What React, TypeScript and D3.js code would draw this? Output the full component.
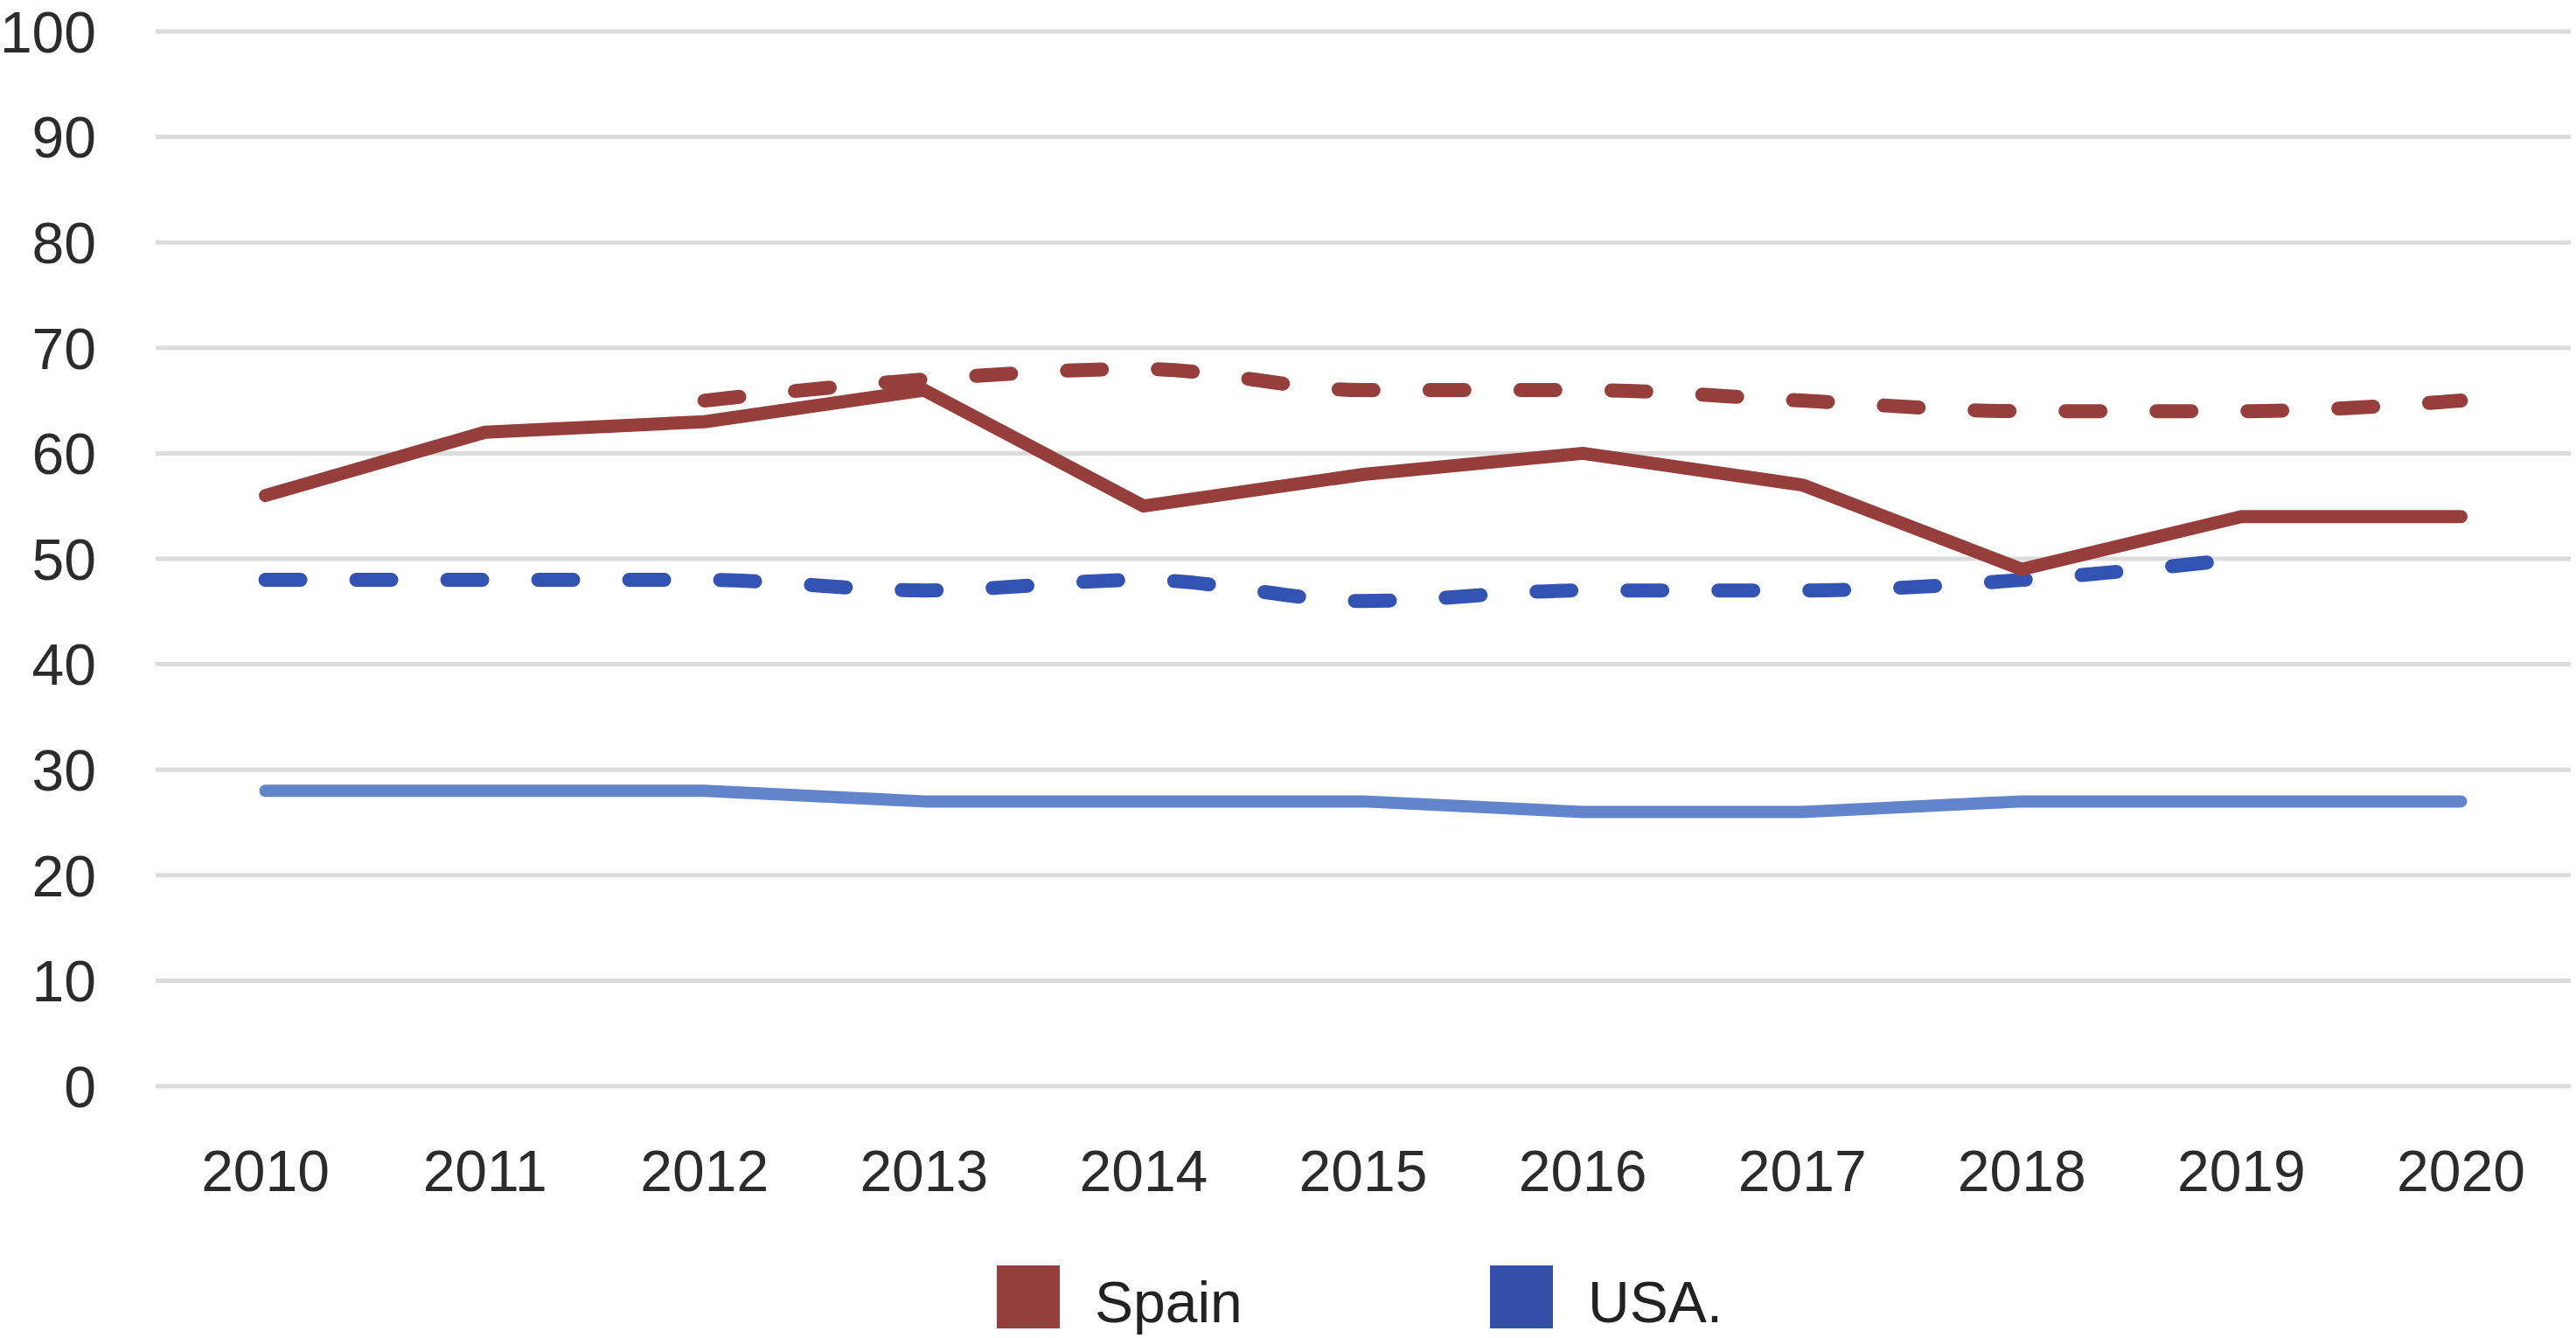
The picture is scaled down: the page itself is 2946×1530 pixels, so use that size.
import { line, curveLinear, curveMonotoneX, scaleLinear, scalePoint } from 'd3';

const years = ['2010', '2011', '2012', '2013', '2014', '2015', '2016', '2017', '2018', '2019', '2020'];
const yTicks = [0, 10, 20, 30, 40, 50, 60, 70, 80, 90, 100];

// null = no value for that year
const spainSolid: (number | null)[] = [56, 62, 63, 66, 55, 58, 60, 57, 49, 54, 54];
const spainDashed: (number | null)[] = [null, null, 65, 67, 68, 66, 66, 65, 64, 64, 65];
const usaDashed: (number | null)[] = [48, 48, 48, 47, 48, 46, 47, 47, 48, 50, null];
const usaSolid: (number | null)[] = [28, 28, 28, 27, 27, 27, 26, 26, 27, 27, 27];

const legendItems = [
  { label: 'Spain', color: '#943f3c' },
  { label: 'USA.', color: '#3450aa' },
];

const width = 2946;
const height = 1530;
const plot = { left: 178, right: 2940, top: 36, bottom: 1242 };
const font = '"Liberation Sans", Arial, sans-serif';

export default function App() {
  const x = scalePoint<string>().domain(years).range([plot.left, plot.right]).padding(0.5);
  const y = scaleLinear().domain([0, 100]).range([plot.bottom, plot.top]);

  const makePath = (values: (number | null)[], smooth: boolean) =>
    line<number | null>()
      .defined(v => v !== null)
      .x((_, i) => x(years[i]) ?? 0)
      .y(v => y(v as number))
      .curve(smooth ? curveMonotoneX : curveLinear)(values) ?? '';

  const series = [
    { values: usaSolid, color: '#6284cb', dashed: false, w: 14 },
    { values: usaDashed, color: '#3353b3', dashed: true, w: 16 },
    { values: spainDashed, color: '#963e3b', dashed: true, w: 16 },
    { values: spainSolid, color: '#963e3b', dashed: false, w: 15 },
  ];

  return (
    <svg
      width={width}
      height={height}
      viewBox={`0 0 ${width} ${height}`}
      style={{ position: 'absolute', left: 0, top: 0, display: 'block', background: '#fff' }}
    >
      <rect width={width} height={height} fill="#fff" />

      {yTicks.map(tick => (
        <g key={tick}>
          <line x1={plot.left} x2={plot.right} y1={y(tick)} y2={y(tick)} stroke="#dcdcdc" strokeWidth={5} />
          <text
            x={110}
            y={y(tick)}
            dy="0.36em"
            textAnchor="end"
            fontFamily={font}
            fontSize={66}
            fill="#2b2b2b"
          >
            {tick}
          </text>
        </g>
      ))}

      {years.map(year => (
        <text
          key={year}
          x={x(year)}
          y={1362}
          textAnchor="middle"
          fontFamily={font}
          fontSize={66}
          fill="#2b2b2b"
        >
          {year}
        </text>
      ))}

      {series.map((s, i) => (
        <path
          key={i}
          d={makePath(s.values, s.dashed)}
          fill="none"
          stroke={s.color}
          strokeWidth={s.w}
          strokeLinecap="round"
          strokeLinejoin="round"
          strokeDasharray={s.dashed ? '40 64' : undefined}
        />
      ))}

      {legendItems.map((item, i) => {
        const lx = i === 0 ? 1140 : 1704;
        return (
          <g key={item.label}>
            <rect x={lx} y={1447} width={72} height={72} fill={item.color} />
            <text x={lx + 112} y={1512} fontFamily={font} fontSize={66} fill="#222">
              {item.label}
            </text>
          </g>
        );
      })}
    </svg>
  );
}
